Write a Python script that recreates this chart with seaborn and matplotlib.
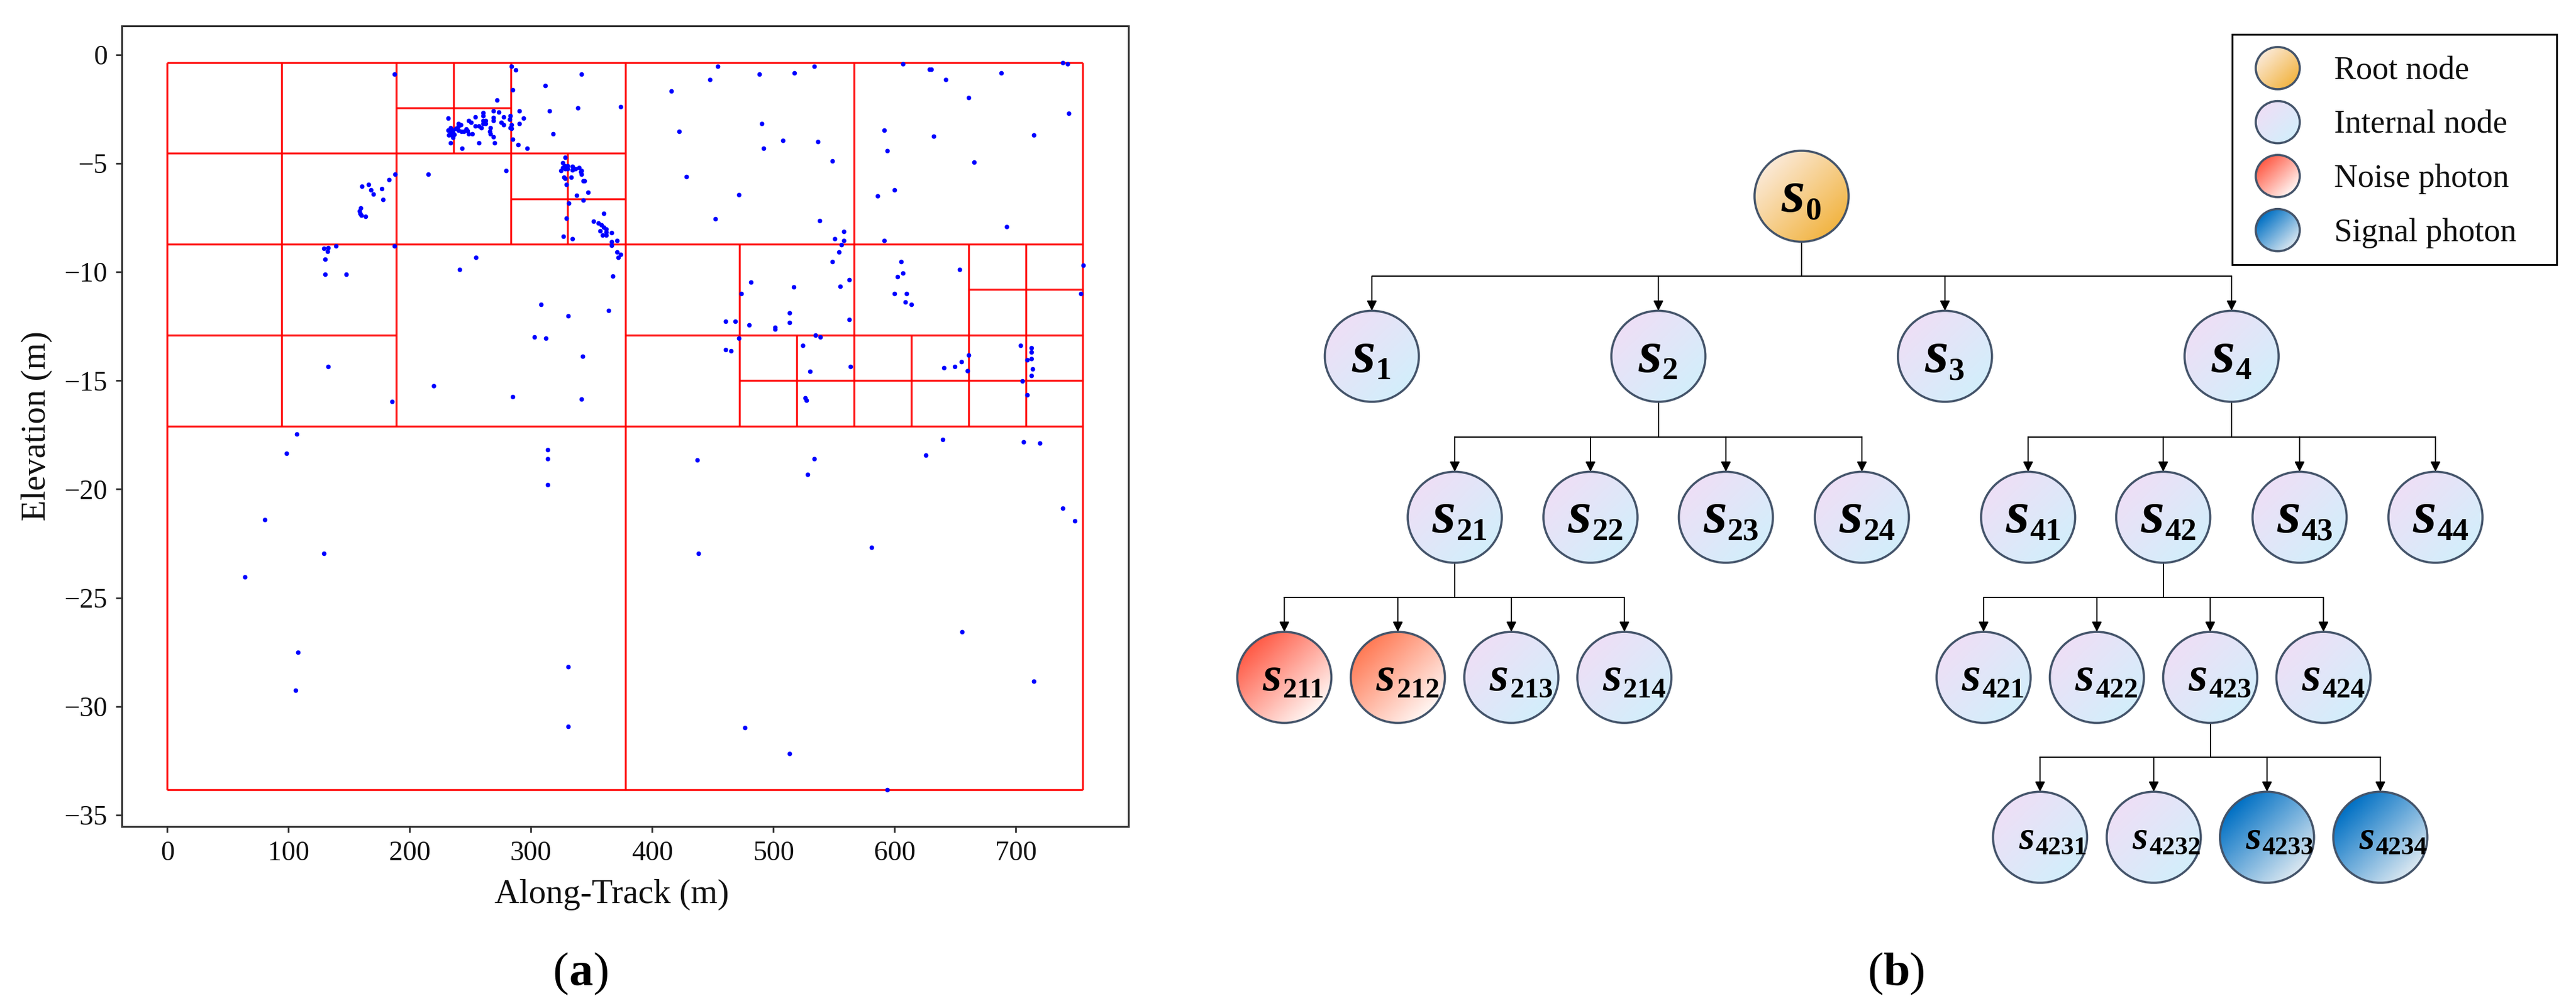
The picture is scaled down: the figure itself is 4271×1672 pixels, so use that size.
import numpy as np
import seaborn as sns
import matplotlib.pyplot as plt
from matplotlib.patches import Ellipse, Rectangle

# panel (a): photons
photon_x = [187.2, 188.1, 183.0, 176.7, 165.9, 160.5, 168.1, 170.0, 177.7, 159.3, 158.3, 159.0, 159.9, 163.7,
            129.4, 132.9, 132.3, 139.3, 187.2, 130.4, 130.4, 147.5, 132.6, 185.3, 106.9, 98.4, 215.4, 241.1,
            254.8, 219.5, 308.4, 330.9, 303.0, 312.5, 342.6, 284.9, 341.7, 313.8, 313.8, 313.8, 80.3, 129.4,
            64.1, 107.9, 106.0, 330.9, 330.9,
            283.9, 287.2, 284.9, 272.1, 311.8, 341.8, 338.5, 315.1, 374.0, 318.2, 290.4, 293.7, 290.4, 269.0,
            273.3, 277.6, 282.9, 282.4, 268.8, 268.8, 260.4, 260.4, 254.1, 231.5, 248.4, 250.4, 240.1, 242.3,
            240.1, 260.4, 262.5, 260.4, 262.5, 259.2, 254.1, 257.0, 275.4, 277.6, 284.1, 282.9, 284.1, 266.7,
            265.8, 266.7, 269.0, 284.9, 289.4, 296.8, 270.0, 257.0, 243.1, 233.7, 231.5, 233.7, 233.7, 235.8,
            238.0, 240.1, 235.8, 233.7, 232.2, 234.7, 236.8, 235.8, 242.6, 244.4, 246.4, 247.8, 248.6, 251.7,
            328.0, 326.4, 327.5, 324.7, 326.4, 328.0, 330.0, 330.0, 334.3, 334.3, 336.6, 339.6, 341.8, 341.0,
            341.8, 327.2, 328.0, 333.3, 342.9, 344.3, 329.0, 347.3, 337.5, 342.9, 331.2, 329.0, 360.0, 351.6,
            355.7, 357.9, 360.0, 362.2, 356.9, 362.2, 362.2, 359.0, 366.5, 326.7, 334.3, 366.5, 370.8, 366.5,
            370.8, 374.0, 371.8, 279.6,
            367.5, 364.1, 415.8, 447.8, 454.3, 488.6, 517.5, 533.7, 422.1, 490.6, 491.7, 507.7, 536.6, 548.6,
            428.3, 471.5, 452.0, 538.0, 558.3, 550.6, 558.3, 556.0, 554.0, 548.6, 481.2, 473.5, 516.6, 554.9,
            562.6, 460.6, 468.3, 480.0, 501.5, 501.5, 513.2, 513.2, 562.6, 471.5, 534.6, 538.9, 460.6, 464.9,
            524.0, 530.3, 563.7, 526.0, 527.2, 437.2, 533.7, 528.3, 625.7, 639.7, 706.3, 720.0,
            606.6, 628.9, 630.3, 642.0, 688.0, 661.1, 738.5, 742.5, 743.7, 591.4, 632.3, 593.7, 714.8, 665.4,
            600.0, 586.0, 692.3, 591.4, 605.4, 606.6, 602.3, 600.0, 609.7, 608.6, 614.0, 653.7, 755.4, 753.4,
            640.9, 649.4, 654.9, 661.1, 660.0, 704.0, 712.6, 712.6, 712.6, 709.4, 713.7, 712.6, 705.1, 709.4,
            738.5, 748.8, 580.9, 438.1, 655.7, 714.8, 476.6, 513.2, 593.7]
photon_y = [-0.90, -5.51, -5.75, -6.16, -5.97, -6.04, -6.23, -6.41, -6.65, -7.05, -7.20, -7.31, -7.38, -7.43,
            -8.90, -8.89, -9.05, -8.80, -8.80, -9.40, -10.10, -10.10, -14.36, -15.97, -17.46, -18.36, -5.51, -9.87,
            -9.33, -15.25, -11.50, -12.02, -13.00, -13.04, -13.87, -15.75, -15.86, -18.18, -18.60, -19.80, -21.41, -22.97,
            -24.05, -27.51, -29.25, -28.17, -30.92,
            -0.54, -0.71, -1.61, -2.09, -1.43, -0.90, -2.44, -2.57, -2.39, -3.64, -2.57, -2.92, -3.16, -2.57,
            -2.63, -2.87, -2.81, -2.98, -2.90, -3.04, -2.68, -2.81, -2.87, -2.92, -3.04, -3.10, -3.16, -3.23,
            -3.28, -3.04, -3.04, -3.16, -3.16, -3.35, -3.28, -3.28, -3.10, -3.23, -3.23, -3.35, -3.40, -3.35,
            -3.53, -3.65, -3.77, -3.89, -4.13, -4.30, -4.06, -4.06, -4.30, -4.06, -3.46, -3.35, -3.46, -3.46,
            -3.40, -3.46, -3.58, -3.58, -3.70, -3.70, -3.67, -3.81, -3.53, -3.53, -3.41, -3.49, -3.65, -3.65,
            -4.72, -4.97, -5.11, -5.32, -5.20, -5.25, -5.11, -5.25, -5.15, -5.29, -5.25, -5.20, -5.32, -5.38,
            -5.51, -5.64, -5.69, -5.63, -5.80, -5.80, -5.98, -6.34, -6.46, -6.70, -6.82, -7.53, -7.29, -7.65,
            -7.74, -7.84, -7.93, -8.02, -8.12, -8.16, -8.30, -8.31, -8.19, -8.36, -8.48, -8.60, -8.55, -8.78,
            -9.09, -9.20, -9.33, -5.32,
            -10.18, -11.78, -1.67, -1.14, -0.53, -0.89, -0.83, -0.53, -3.52, -3.17, -4.30, -3.95, -4.00, -4.90,
            -5.62, -6.45, -7.54, -7.64, -8.14, -8.48, -8.55, -8.75, -9.09, -9.51, -10.46, -11.00, -10.70, -10.65,
            -10.35, -12.26, -12.26, -12.43, -12.56, -12.63, -11.89, -12.32, -12.20, -13.04, -12.91, -12.98, -13.58, -13.64,
            -13.39, -14.58, -14.36, -15.79, -15.91, -18.66, -18.60, -19.33, -18.42, -17.71, -17.83, -17.89,
            -0.42, -0.66, -0.66, -1.14, -0.83, -1.98, -0.35, -0.42, -2.69, -3.47, -3.76, -4.41, -3.70, -4.95,
            -6.23, -6.51, -7.90, -8.55, -9.51, -10.05, -10.22, -11.00, -11.00, -11.37, -11.48, -9.87, -9.68, -11.00,
            -14.42, -14.36, -14.12, -13.82, -14.54, -13.39, -13.49, -13.69, -13.99, -14.06, -14.47, -14.78, -15.01, -15.67,
            -20.88, -21.47, -22.67, -22.97, -26.56, -28.83, -30.98, -32.18, -33.85]

# quadtree cell borders, metres
vline_x = [0, 377.7, 755.3, 188.8, 94.4, 283.2, 236.0, 330.4, 566.5, 472.1, 519.3, 660.9, 708.1, 613.7]
vline_top = [-0.35, -0.35, -0.35, -0.35, -0.35, -0.35, -0.35, -4.54, -0.35, -8.72, -12.91, -8.72, -8.72, -12.91]
vline_bot = [-33.84, -33.84, -33.84, -17.1, -17.1, -8.72, -4.54, -8.72, -17.1, -17.1, -17.1, -17.1, -17.1, -17.1]
hline_y = [-0.35, -33.84, -17.1, -8.72, -4.54, -12.91, -12.91, -2.44, -6.63, -15.0, -10.81]
hline_left = [0, 0, 0, 0, 0, 0, 377.7, 188.8, 283.2, 472.1, 660.9]
hline_right = [755.3, 755.3, 755.3, 755.3, 377.7, 188.8, 755.3, 283.2, 377.7, 755.3, 755.3]

# panel (b): tree nodes, position in image pixels
node_names = ['0', '1', '2', '3', '4',
              '21', '22', '23', '24', '41', '42', '43', '44',
              '211', '212', '213', '214', '421', '422', '423', '424',
              '4231', '4232', '4233', '4234']
node_x = [2987, 2274.5, 2749.6, 3224.7, 3700,
          2412, 2637, 2861.5, 3087, 3362.6, 3586.6, 3812.7, 4038,
          2129.4, 2317.6, 2505.8, 2693.2, 3288.8, 3476.6, 3664.5, 3852.3,
          3382.4, 3570.9, 3758.7, 3946.6]
node_y = [325.5, 591, 591, 591, 591,
          858, 858, 858, 858, 858, 858, 858, 858,
          1123.6, 1123.6, 1123.6, 1123.6, 1123.6, 1123.6, 1123.6, 1123.6,
          1388.8, 1388.8, 1388.8, 1388.8]
node_kind = ['root', 'internal', 'internal', 'internal', 'internal',
             'internal', 'internal', 'internal', 'internal', 'internal', 'internal', 'internal', 'internal',
             'noise', 'noise2', 'internal', 'internal', 'internal', 'internal', 'internal', 'internal',
             'internal', 'internal', 'signal', 'signal']

legend_labels = ['Root node', 'Internal node', 'Noise photon', 'Signal photon']
legend_kinds = ['root', 'internal', 'noise', 'signal']
legend_y = [113, 202.6, 292, 381.7]

kind_colors = {'root': ('#FBE9D6', '#F2B544'),
               'internal': ('#EEDFF6', '#D3EEFB'),
               'noise': ('#FF5A45', '#FFF6F3'),
               'noise2': ('#FF7A55', '#FFF6F3'),
               'signal': ('#0070C4', '#D9E7F1')}

sns.set_theme(style='ticks')
plt.rcParams['font.family'] = ['Liberation Serif', 'DejaVu Serif']

W, H = 4271, 1672
fig = plt.figure(figsize=(W / 100, H / 100), dpi=100, facecolor='white')

# ---- (a)
ax = fig.add_axes([202 / W, (H - 1371) / H, 1669 / W, 1328 / H])
ax.vlines(vline_x, vline_top, vline_bot, color='red', lw=2.4, alpha=0.9)
ax.hlines(hline_y, hline_left, hline_right, color='red', lw=2.4, alpha=0.9)
sns.scatterplot(x=photon_x, y=photon_y, color='#0000FF', s=30, linewidth=0, ax=ax, zorder=3)
ax.set_xlim(-37.5, 792.9)
ax.set_ylim(-35.53, 1.33)
ax.set_xticks(np.arange(0, 701, 100))
ax.set_yticks(np.arange(-35, 1, 5))
ax.tick_params(labelsize=33, length=7, width=2, color='#303030', labelcolor='#111111', pad=10)
ax.set_xlabel('Along-Track (m)', fontsize=41, color='#111111', labelpad=15, x=0.4865)
ax.set_ylabel('Elevation (m)', fontsize=41, color='#111111', labelpad=14)
for side in ax.spines.values():
    side.set_linewidth(2.2)
    side.set_color('#303030')

# ---- (b), drawn in image pixels
tree = fig.add_axes([0, 0, 1, 1], facecolor='none')
tree.set_axis_off()


def gradient_ellipse(x, y, rx, ry, kind, lw=2.6):
    cmap = sns.blend_palette(kind_colors[kind], n_colors=128, as_cmap=True)
    u, v = np.meshgrid(np.linspace(-0.5, 0.5, 120), np.linspace(-0.5, 0.5, 120))
    grad = np.clip(0.5 + (u + v) / 1.414, 0, 1)
    im = tree.imshow(grad, cmap=cmap, vmin=0, vmax=1, aspect='auto', origin='upper',
                     extent=(x - rx, x + rx, y + ry, y - ry), zorder=2)
    patch = Ellipse((x, y), 2 * rx, 2 * ry, facecolor='none', edgecolor='#44546A', lw=lw, zorder=3)
    tree.add_patch(patch)
    im.set_clip_path(patch)


RX, RY = 78, 75.5
# s left, s baseline, sub left, sub baseline, s size, sub size
label_style = {1: (-33, 26, 6.5, 38, 72, 38),
               2: (-37, 24.5, 2.5, 38, 72, 38),
               3: (-36, 21, -2, 33, 58, 34),
               4: (-35.5, 19, -8, 28, 47, 31)}

by_name = dict(zip(node_names, zip(node_x, node_y)))
parents = {}
for name in node_names[1:]:
    parent = '0' if len(name) == 1 else name[:-1]
    parents.setdefault(parent, []).append(name)

for parent, kids in parents.items():
    px, py = by_name[parent]
    kid_y = by_name[kids[0]][1]
    bar_y = (py + RY + kid_y - RY) / 2
    kid_xs = [by_name[k][0] for k in kids]
    tree.plot([px, px], [py + RY, bar_y], color='black', lw=1.4, zorder=1)
    tree.plot([min(kid_xs), max(kid_xs)], [bar_y, bar_y], color='black', lw=1.4, zorder=1)
    for kx in kid_xs:
        tree.annotate('', xy=(kx, kid_y - RY), xytext=(kx, bar_y),
                      arrowprops=dict(arrowstyle='-|>,head_length=0.4,head_width=0.2', mutation_scale=25,
                                      color='black', lw=1.4, shrinkA=0, shrinkB=0), zorder=1)

for name, x, y, kind in zip(node_names, node_x, node_y, node_kind):
    gradient_ellipse(x, y, RX, RY, kind)
    sl, sb, nl, nb, s_size, n_size = label_style[len(name)]
    tree.text(x + sl, y + sb, 's', fontsize=s_size, fontweight='bold', fontstyle='italic',
              ha='left', va='baseline', color='black', zorder=4)
    tree.text(x + nl, y + nb, name, fontsize=n_size, fontweight='bold',
              ha='left', va='baseline', color='black', zorder=4)

# legend box
tree.add_patch(Rectangle((3700.7, 57.4), 538.3, 381.2, facecolor='white', edgecolor='black', lw=2.2, zorder=1.5))
for label, kind, y in zip(legend_labels, legend_kinds, legend_y):
    gradient_ellipse(3776.5, y, 36.5, 35, kind)
    tree.text(3870, y + 5, label, fontsize=39, ha='left', va='center', color='#111111', zorder=4)

# panel captions
for left, bold_left, right, letter in [(917, 943, 983, 'a'), (3097, 3123, 3165, 'b')]:
    tree.text(left, 1634, '(', fontsize=57, ha='left', va='baseline', color='black')
    tree.text(bold_left, 1634, letter, fontsize=57, fontweight='bold', ha='left', va='baseline', color='black')
    tree.text(right, 1634, ')', fontsize=57, ha='left', va='baseline', color='black')

tree.set_xlim(0, W)
tree.set_ylim(H, 0)

fig.savefig('out.png', dpi=100, facecolor='white')
